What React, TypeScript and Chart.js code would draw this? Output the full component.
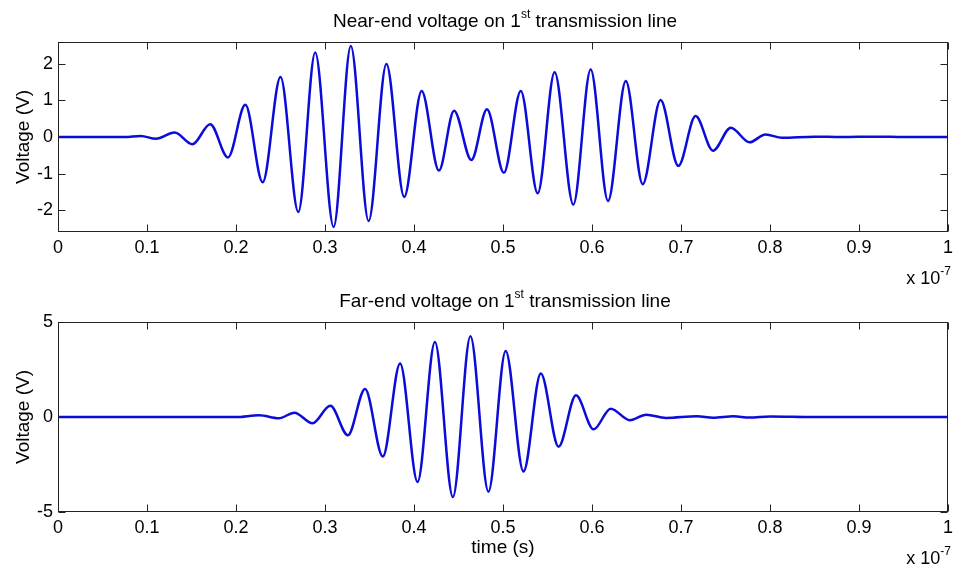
import React, { useEffect, useRef } from "react";
import { Chart, registerables } from "chart.js";

Chart.register(...registerables);

// ---- data (time in units of 1e-7 s, voltage in V) ----
const xTickValues = [0, 0.1, 0.2, 0.3, 0.4, 0.5, 0.6, 0.7, 0.8, 0.9, 1];
const nearYTicks = [-2, -1, 0, 1, 2];
const farYTicks = [-5, 0, 5];

const nearTime = [
  0, 0.05, 0.075, 0.093, 0.11, 0.131, 0.151, 0.171, 0.191, 0.2105, 0.23, 0.25,
  0.27, 0.289, 0.3097, 0.329, 0.349, 0.369, 0.389, 0.4086, 0.428, 0.445, 0.4645,
  0.482, 0.501, 0.52, 0.539, 0.558, 0.579, 0.5985, 0.618, 0.638, 0.657, 0.677,
  0.697, 0.7164, 0.736, 0.756, 0.777, 0.795, 0.8135, 0.85, 0.88, 0.92, 0.95, 1.0,
];
const nearVolt = [
  0, 0, 0, 0.03, -0.05, 0.12, -0.2, 0.35, -0.56, 0.88, -1.24, 1.64, -2.05, 2.31,
  -2.46, 2.49, -2.3, 2.0, -1.64, 1.26, -0.92, 0.72, -0.63, 0.76, -0.98, 1.26,
  -1.54, 1.77, -1.85, 1.85, -1.75, 1.53, -1.29, 1.01, -0.79, 0.575, -0.375,
  0.255, -0.145, 0.07, -0.02, 0.01, 0, 0.01, 0, 0,
];

const farTime = [
  0, 0.1, 0.2, 0.226, 0.248, 0.2657, 0.286, 0.306, 0.3257, 0.345, 0.365, 0.3844,
  0.404, 0.4235, 0.4437, 0.4634, 0.4836, 0.503, 0.523, 0.5425, 0.5624, 0.582,
  0.6018, 0.621, 0.6425, 0.661, 0.683, 0.718, 0.736, 0.759, 0.777, 0.8, 0.85, 1.0,
];
const farVolt = [
  0, 0, 0, 0.09, -0.07, 0.23, -0.33, 0.59, -0.96, 1.48, -2.08, 2.82, -3.42, 3.95,
  -4.21, 4.25, -3.93, 3.48, -2.87, 2.29, -1.56, 1.14, -0.65, 0.44, -0.17, 0.12,
  -0.05, 0.04, -0.04, 0.04, -0.03, 0.03, 0, 0,
];

const FONT = "'Liberation Sans', Arial, sans-serif";
const LINE_COLOR = "#0c0cd8";

const framePlugin = {
  id: "matlabFrame",
  afterDraw(chart: any) {
    const { ctx, chartArea: a, scales } = chart;
    const L = 7;
    ctx.save();
    ctx.strokeStyle = "#222";
    ctx.lineWidth = 1;
    const l = Math.round(a.left) + 0.5;
    const r = Math.round(a.right) - 0.5;
    const t = Math.round(a.top) + 0.5;
    const b = Math.round(a.bottom) - 0.5;
    ctx.strokeRect(l, t, r - l, b - t);
    ctx.beginPath();
    for (const tk of scales.x.ticks) {
      const px = Math.round(scales.x.getPixelForValue(tk.value)) + 0.5;
      ctx.moveTo(px, b);
      ctx.lineTo(px, b - L);
      ctx.moveTo(px, t);
      ctx.lineTo(px, t + L);
    }
    for (const tk of scales.y.ticks) {
      const py = Math.round(scales.y.getPixelForValue(tk.value)) + 0.5;
      ctx.moveTo(l, py);
      ctx.lineTo(l + L, py);
      ctx.moveTo(r, py);
      ctx.lineTo(r - L, py);
    }
    ctx.stroke();
    ctx.restore();
  },
};

type PanelProps = {
  time: number[];
  volt: number[];
  yMin: number;
  yMax: number;
  yTicks: number[];
  height: number;
  xAxisHeight: number;
  xTitle?: string;
};

function Panel({ time, volt, yMin, yMax, yTicks, height, xAxisHeight, xTitle }: PanelProps) {
  const ref = useRef<HTMLCanvasElement | null>(null);
  useEffect(() => {
    if (!ref.current) return;
    const points = time.map((t, i) => ({ x: t, y: volt[i] }));
    const chart = new Chart(ref.current, {
      type: "line",
      data: {
        datasets: [
          {
            data: points,
            borderColor: LINE_COLOR,
            borderWidth: 2.5,
            pointRadius: 0,
            cubicInterpolationMode: "monotone",
            fill: false,
          },
        ],
      },
      options: {
        responsive: false,
        animation: false,
        devicePixelRatio: 1,
        layout: { padding: { top: 42, right: 6, left: 0, bottom: 0 } },
        plugins: { legend: { display: false }, tooltip: { enabled: false }, title: { display: false } },
        scales: {
          x: {
            type: "linear",
            min: 0,
            max: 1,
            grid: { display: false, drawTicks: false },
            border: { display: false },
            afterBuildTicks: (s: any) => {
              s.ticks = xTickValues.map((v) => ({ value: v }));
            },
            afterFit: (s: any) => {
              s.height = xAxisHeight;
            },
            ticks: {
              autoSkip: false,
              maxRotation: 0,
              padding: 5,
              color: "#000",
              font: { family: FONT, size: 18 },
              callback: (v: any) => String(Number(Number(v).toFixed(1))),
            },
            title: {
              display: !!xTitle,
              text: xTitle || "",
              color: "#000",
              font: { family: FONT, size: 19 },
              padding: { top: 0, bottom: 13 },
            },
          },
          y: {
            type: "linear",
            min: yMin,
            max: yMax,
            grid: { display: false, drawTicks: false },
            border: { display: false },
            afterBuildTicks: (s: any) => {
              s.ticks = yTicks.map((v) => ({ value: v }));
            },
            afterFit: (s: any) => {
              s.width = 58;
            },
            ticks: {
              autoSkip: false,
              padding: 5,
              color: "#000",
              font: { family: FONT, size: 18 },
              callback: (v: any) => String(v),
            },
            title: {
              display: true,
              text: "Voltage (V)",
              color: "#000",
              font: { family: FONT, size: 19 },
              padding: { top: 12, bottom: 0 },
            },
          },
        },
      },
      plugins: [framePlugin],
    } as any);
    return () => chart.destroy();
  }, []);
  return <canvas ref={ref} width={958} height={height} style={{ display: "block" }} />;
}

export default function App() {
  const titleStyle: React.CSSProperties = {
    position: "absolute",
    left: 58,
    width: 894,
    textAlign: "center",
    fontFamily: FONT,
    fontSize: 19,
    lineHeight: "22px",
    color: "#000",
    whiteSpace: "nowrap",
  };
  const supStyle: React.CSSProperties = {
    fontSize: 12,
    position: "relative",
    top: -9,
    verticalAlign: "baseline",
    lineHeight: 0,
  };
  const expStyle: React.CSSProperties = {
    position: "absolute",
    right: 7,
    fontFamily: FONT,
    fontSize: 18,
    lineHeight: "20px",
    color: "#000",
    whiteSpace: "nowrap",
  };
  return (
    <div
      style={{
        position: "absolute",
        left: 0,
        top: 0,
        width: 958,
        height: 572,
        background: "#fff",
        overflow: "hidden",
      }}
    >
      <div style={{ position: "absolute", left: 0, top: 0 }}>
        <Panel time={nearTime} volt={nearVolt} yMin={-2.6} yMax={2.6} yTicks={nearYTicks} height={280} xAxisHeight={48} />
      </div>
      <div style={{ position: "absolute", left: 0, top: 280 }}>
        <Panel
          time={farTime}
          volt={farVolt}
          yMin={-5}
          yMax={5}
          yTicks={farYTicks}
          height={292}
          xAxisHeight={60}
          xTitle="time (s)"
        />
      </div>
      <div style={{ ...titleStyle, top: 10 }}>
        Near-end voltage on 1<span style={supStyle}>st</span> transmission line
      </div>
      <div style={{ ...titleStyle, top: 290 }}>
        Far-end voltage on 1<span style={supStyle}>st</span> transmission line
      </div>
      <div style={{ ...expStyle, top: 268 }}>
        x 10<span style={supStyle}>-7</span>
      </div>
      <div style={{ ...expStyle, top: 548 }}>
        x 10<span style={supStyle}>-7</span>
      </div>
    </div>
  );
}
